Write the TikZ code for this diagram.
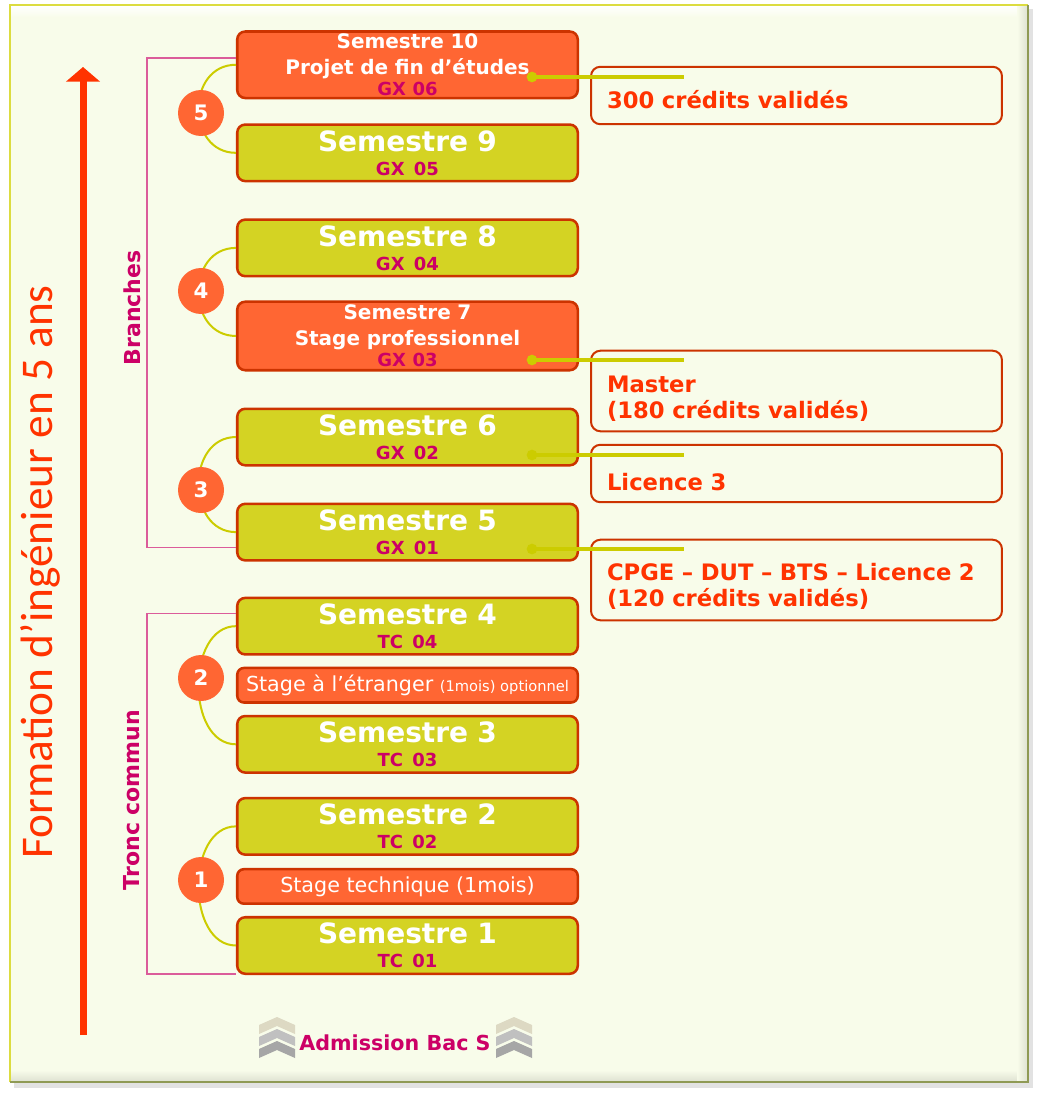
\documentclass[tikz,border=0pt]{standalone}
\usepackage{fontspec}
\setmainfont{DejaVu Sans}
\newfontfamily\titlefont{Carlito}
\usetikzlibrary{arrows.meta, positioning}

\definecolor{panelbg}{HTML}{F8FCEA}
\definecolor{panelhi}{HTML}{DCDC40}
\definecolor{panello}{HTML}{8F9A55}
\definecolor{semyellow}{HTML}{D4D323}
\definecolor{stageorange}{HTML}{FF6633}
\definecolor{boxred}{HTML}{CC3300}
\definecolor{codepink}{HTML}{CC0066}
\definecolor{linkyellow}{HTML}{CCCC00}
\definecolor{brackpink}{HTML}{DB5C9A}
\definecolor{titlered}{HTML}{FF3300}
\definecolor{chevA}{HTML}{DDD9C3}
\definecolor{chevB}{HTML}{C0C0C0}
\definecolor{chevC}{HTML}{A6A6A6}

\newcommand{\semcode}[1]{{\fontsize{13.5}{18}\selectfont\color{codepink}#1}}

\begin{document}
\begin{tikzpicture}[x=0.75pt, y=-0.75pt,
  sem/.style={draw=boxred, line width=1.9pt, rounded corners=6pt, fill=semyellow, text=white,
    font=\bfseries\fontsize{21}{18}\selectfont, align=center, text width=249.4pt,
    inner xsep=3pt, inner ysep=1pt, minimum height=42.4pt},
  semlong/.style={sem, fill=stageorange, font=\bfseries\fontsize{15}{19.5}\selectfont},
  stagebar/.style={draw=boxred, line width=1.9pt, rounded corners=5pt, fill=stageorange, text=white,
    font=\fontsize{15.5}{18}\selectfont, minimum width=255.4pt, minimum height=25.9pt, inner sep=1pt},
  rbox/.style={draw=boxred, line width=1.5pt, rounded corners=7pt, fill=panelbg, text=titlered,
    font=\bfseries\fontsize{17}{19.5}\selectfont, align=left, text width=284.2pt, inner xsep=12pt},
  num/.style={circle, fill=stageorange, text=white,
    font=\bfseries\fontsize{16}{16}\selectfont, minimum size=34.5pt, inner sep=0pt},
  arcline/.style={draw=linkyellow, line width=1.5pt},
  bracket/.style={draw=brackpink, line width=1.2pt},
  link/.style={draw=linkyellow, line width=2.6pt},
  dot/.style={circle, fill=linkyellow, minimum size=8pt, inner sep=0pt},
  brlabel/.style={rotate=90, text=codepink, font=\bfseries\fontsize{16.5}{16.5}\selectfont},
  bigarrow/.style={draw=titlered, line width=5.25pt, -{Triangle[width=25pt,length=11pt]}}]
  \useasboundingbox (0,0) rectangle (1040,1095);

  % panel
  \fill[black!25, opacity=0.45] (14,9) rectangle (1033,1088);
  \fill[panelbg] (10,5) rectangle (1028,1082);
  \shade[top color=white, bottom color=panelbg] (11,6) rectangle (1027,17);
  \shade[top color=panelbg, bottom color=black!10!panelbg] (11,1070) rectangle (1027,1081);
  \shade[left color=panelbg, right color=black!10!panelbg] (1017,6) rectangle (1027,1081);
  \draw[panelhi, line width=1.5pt] (10,1082) -- (10,5) -- (1028,5);
  \draw[panello, line width=1.5pt] (1028,5) -- (1028,1082) -- (10,1082);

  % semesters
  \node[sem] (s1) at (407.5,945.5) {Semestre 1\\\semcode{TC 01}};
  \node[stagebar, above=8.25pt of s1] (tech) {Stage technique (1mois)};
  \node[sem, above=9pt of tech] (s2) {Semestre 2\\\semcode{TC 02}};
  \node[sem, above=17.25pt of s2] (s3) {Semestre 3\\\semcode{TC 03}};
  \node[stagebar, above=8.25pt of s3] (etr) {Stage à l’étranger {\fontsize{11}{12}\selectfont (1mois) optionnel}};
  \node[sem, above=8.25pt of etr] (s4) {Semestre 4\\\semcode{TC 04}};
  \node[sem, above=26.25pt of s4] (s5) {Semestre 5\\\semcode{GX 01}};
  \node[sem, above=27pt of s5] (s6) {Semestre 6\\\semcode{GX 02}};
  \node[semlong, above=27pt of s6, minimum height=51.4pt] (s7) {Semestre 7\\Stage professionnel\\[-3.5pt]\semcode{GX 03}};
  \node[sem, above=17.25pt of s7] (s8) {Semestre 8\\\semcode{GX 04}};
  \node[sem, above=27pt of s8] (s9) {Semestre 9\\\semcode{GX 05}};
  \node[semlong, above=18pt of s9, minimum height=49.9pt] (s10) {Semestre 10\\Projet de fin d’études\\[-3.5pt]\semcode{GX 06}};

  % years
  \draw[arcline] (s10.west) .. controls +(-50,0) and +(-50,0) .. (s9.west);
  \draw[arcline] (s8.west) .. controls +(-50,0) and +(-50,0) .. (s7.west);
  \draw[arcline] (s6.west) .. controls +(-50,0) and +(-50,0) .. (s5.west);
  \draw[arcline] (s4.west) .. controls +(-50,0) and +(-50,0) .. (s3.west);
  \draw[arcline] (s2.west) .. controls +(-50,0) and +(-50,0) .. (s1.west);
  \node[num] (y5) at (201,113) {5};
  \node[num] (y4) at (201,291) {4};
  \node[num] (y3) at (201,490) {3};
  \node[num] (y2) at (201,678) {2};
  \node[num] (y1) at (201,880) {1};

  % brackets
  \draw[bracket] ([yshift=4.9pt]s10.west) -- ++(-89,0) |- ([yshift=-11.6pt]s5.west);
  \draw[bracket] ([yshift=9.4pt]s4.west) -- ++(-89,0) |- ([yshift=-21.4pt]s1.west);
  \node[brlabel] (branches) at (132,308) {Branches};
  \node[brlabel] (tronc) at (132,800) {Tronc commun};

  % diplomas
  \node[rbox, minimum height=43.1pt, text height=18.8pt, text depth=0pt] (r1) at (796.5,95.5) {300 crédits validés};
  \node[rbox, minimum height=60.4pt, text height=25pt, text depth=23.5pt] (r2) at (796.5,391) {Master\\(180 crédits validés)};
  \node[rbox, minimum height=43.1pt, text height=24.8pt, text depth=0pt] (r3) at (796.5,473.5) {Licence 3};
  \node[rbox, minimum height=60.4pt, text height=23.5pt, text depth=23.5pt] (r4) at (796.5,580) {CPGE – DUT – BTS – Licence 2\\(120 crédits validés)};

  \node[dot] (d10) at (532,77) {};
  \node[dot] (d7) at (532,360) {};
  \node[dot] (d6) at (532,455) {};
  \node[dot] (d5) at (532,549) {};
  \coordinate (e10) at (684,77);
  \coordinate (e7) at (684,360);
  \coordinate (e6) at (684,455);
  \coordinate (e5) at (684,549);
  \draw[link] (d10.center) -- (e10);
  \draw[link] (d7.center) -- (e7);
  \draw[link] (d6.center) -- (e6);
  \draw[link] (d5.center) -- (e5);

  % time axis
  \coordinate (arrbot) at (83,1035);
  \coordinate (arrtop) at (83,67);
  \draw[bigarrow] (arrbot) -- (arrtop);
  \node[rotate=90, text=titlered, font=\titlefont\fontsize{34}{34}\selectfont] (title) at (40,572) {Formation d’ingénieur en 5 ans};

  % admission
  \foreach \cx in {259,496} {
    \foreach \i/\c in {0/chevA,1/chevB,2/chevC}
      \fill[\c] (\cx,1025+12*\i) -- (\cx+18,1017+12*\i) -- (\cx+36,1025+12*\i)
        -- (\cx+36,1034+12*\i) -- (\cx+18,1026+12*\i) -- (\cx,1034+12*\i) -- cycle;
  }
  \node[text=codepink, font=\bfseries\fontsize{15.5}{15.5}\selectfont] (adm) at (395,1043) {Admission Bac S};
\end{tikzpicture}
\end{document}
